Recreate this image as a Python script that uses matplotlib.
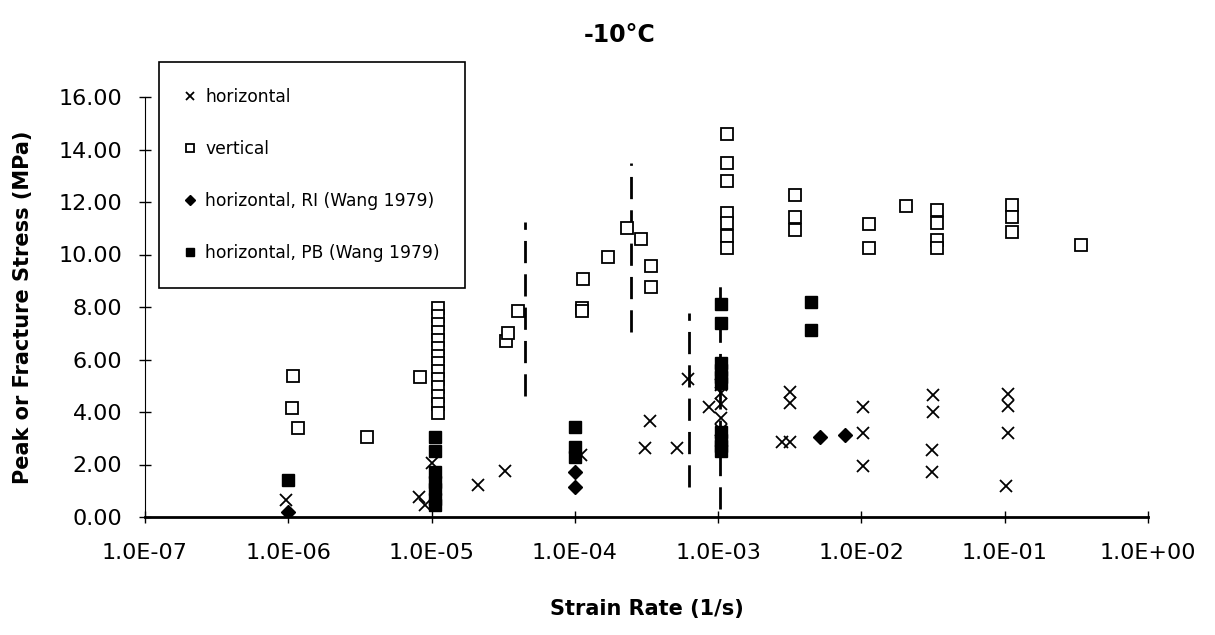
import matplotlib.pyplot as plt

plt.rcParams['font.family'] = ['DejaVu Sans']

# horizontal specimens (x markers)
horiz_rate = [9.7e-7, 8.2e-6, 9.0e-6, 1.0e-5, 2.1e-5, 3.27e-5, 1.1e-4, 3.1e-4, 3.33e-4,
              5.19e-4, 6.15e-4, 8.7e-4, 1.05e-3, 1.05e-3, 1.05e-3, 1.05e-3, 1.05e-3,
              2.8e-3, 3.15e-3, 3.15e-3, 3.15e-3, 1.02e-2, 1.02e-2, 1.02e-2,
              3.15e-2, 3.15e-2, 3.1e-2, 3.1e-2, 1.05e-1, 1.05e-1, 1.05e-1, 1.02e-1]
horiz_stress = [0.65, 0.75, 0.45, 2.05, 1.22, 1.76, 2.35, 2.64, 3.67,
                2.64, 5.24, 4.2, 5.03, 4.72, 4.32, 3.76, 3.3,
                2.87, 2.87, 4.33, 4.77, 4.2, 3.21, 1.94,
                4.65, 4.01, 2.55, 1.73, 4.69, 4.23, 3.19, 1.18]

# vertical specimens (open squares)
vert_rate = [1.08e-6, 1.07e-6, 1.17e-6, 3.54e-6, 8.3e-6,
             1.1e-5, 1.1e-5, 1.1e-5, 1.1e-5, 1.1e-5, 1.1e-5, 1.1e-5,
             1.1e-5, 1.1e-5, 1.1e-5, 1.1e-5, 1.1e-5, 1.1e-5, 1.1e-5,
             3.3e-5, 3.4e-5, 4.0e-5, 1.14e-4, 1.12e-4, 1.12e-4, 1.7e-4,
             2.31e-4, 2.88e-4, 3.38e-4, 3.38e-4,
             1.15e-3, 1.15e-3, 1.15e-3, 1.15e-3, 1.15e-3, 1.15e-3, 1.15e-3,
             3.42e-3, 3.42e-3, 3.42e-3, 1.13e-2, 1.13e-2, 2.05e-2,
             3.38e-2, 3.38e-2, 3.38e-2, 3.38e-2, 1.13e-1, 1.13e-1, 1.13e-1, 3.39e-1]
vert_stress = [5.37, 4.16, 3.40, 3.06, 5.34,
               7.95, 7.65, 7.35, 7.05, 6.75, 6.45, 6.15,
               5.85, 5.55, 5.25, 4.95, 4.6, 4.3, 3.95,
               6.72, 7.02, 7.86, 9.05, 7.95, 7.85, 9.9,
               11.02, 10.58, 9.58, 8.77,
               14.6, 13.5, 12.8, 11.6, 11.2, 10.7, 10.25,
               12.27, 11.44, 10.95, 11.15, 10.25, 11.86,
               11.7, 11.19, 10.55, 10.24, 11.89, 11.44, 10.87, 10.36]

# Wang 1979, RI (diamonds)
ri_rate = [1.0e-6, 1.0e-4, 1.0e-4, 5.15e-3, 7.7e-3]
ri_stress = [0.2, 1.7, 1.15, 3.04, 3.12]

# Wang 1979, PB (filled squares)
pb_rate = [1.0e-6, 1.05e-5, 1.05e-5, 1.05e-5, 1.05e-5, 1.05e-5, 1.05e-5, 1.05e-5,
           1.0e-4, 1.0e-4, 1.0e-4,
           1.05e-3, 1.05e-3, 1.05e-3, 1.05e-3, 1.05e-3, 1.05e-3,
           1.05e-3, 1.05e-3, 1.05e-3, 1.05e-3, 4.42e-3, 4.42e-3]
pb_stress = [1.41, 3.06, 2.5, 1.7, 1.35, 1.05, 0.7, 0.45,
             3.44, 2.68, 2.3,
             8.1, 7.4, 5.85, 5.6, 5.35, 5.1,
             3.25, 2.95, 2.7, 2.5, 8.2, 7.12]

# dashed range bars
bar_rate = [4.47e-5, 2.48e-4, 6.3e-4, 1.03e-3]
bar_low = [4.6, 7.05, 1.14, 0.3]
bar_high = [11.25, 13.5, 7.77, 9.0]

xticks = [1e-7, 1e-6, 1e-5, 1e-4, 1e-3, 1e-2, 1e-1, 1e0]
xlabels = ['1.0E-07', '1.0E-06', '1.0E-05', '1.0E-04', '1.0E-03', '1.0E-02', '1.0E-01', '1.0E+00']
yticks = [0, 2, 4, 6, 8, 10, 12, 14, 16]

fig = plt.figure(figsize=(12.15, 6.35), dpi=100)
ax = fig.add_axes([145 / 1215, 118 / 635, 1003 / 1215, 420 / 635])

ax.vlines(bar_rate, bar_low, bar_high, colors='black', linewidth=2,
          linestyles=(0, (8, 4)), zorder=1)

ax.plot(horiz_rate, horiz_stress, 'x', color='black', ms=9, mew=1.3, label='horizontal', zorder=3)
ax.plot(vert_rate, vert_stress, 's', mfc='white', mec='black', ms=8.5, mew=1.3, label='vertical', zorder=2)
ax.plot(ri_rate, ri_stress, 'D', color='black', ms=7, label='horizontal, RI (Wang 1979)', zorder=4)
ax.plot(pb_rate, pb_stress, 's', color='black', ms=8.5, label='horizontal, PB (Wang 1979)', zorder=4)

ax.set_xscale('log')
ax.set_xlim(1e-7, 1e0)
ax.set_ylim(0, 16)
ax.set_xticks(xticks)
ax.set_xticklabels(xlabels)
ax.minorticks_off()
ax.set_yticks(yticks)
ax.set_yticklabels(['%.2f' % v for v in yticks])

for s in ['top', 'right']:
    ax.spines[s].set_visible(False)
ax.spines['bottom'].set_linewidth(2)
ax.spines['left'].set_linewidth(0.8)
ax.tick_params(direction='inout', length=9, width=1, labelsize=16)
ax.tick_params(axis='x', pad=14)
ax.tick_params(axis='y', pad=12)

ax.set_xlabel('Strain Rate (1/s)', fontsize=15, fontweight='bold', labelpad=26)
ax.set_ylabel('Peak or Fracture Stress (MPa)', fontsize=15, fontweight='bold', labelpad=18)
fig.text(620 / 1215, 1 - 35 / 635, '-10°C', fontsize=17, fontweight='bold', ha='center', va='center')

leg = ax.legend(loc='upper left', bbox_to_anchor=(159 / 1215, 1 - 62 / 635),
                bbox_transform=fig.transFigure, borderaxespad=0, fontsize=12.3,
                markerscale=0.7, handlelength=0.6, handletextpad=0.6, labelspacing=2.0,
                borderpad=1.5, fancybox=False, edgecolor='black', framealpha=1)
leg.get_frame().set_linewidth(1.2)

fig.savefig('out.png', dpi=100)
